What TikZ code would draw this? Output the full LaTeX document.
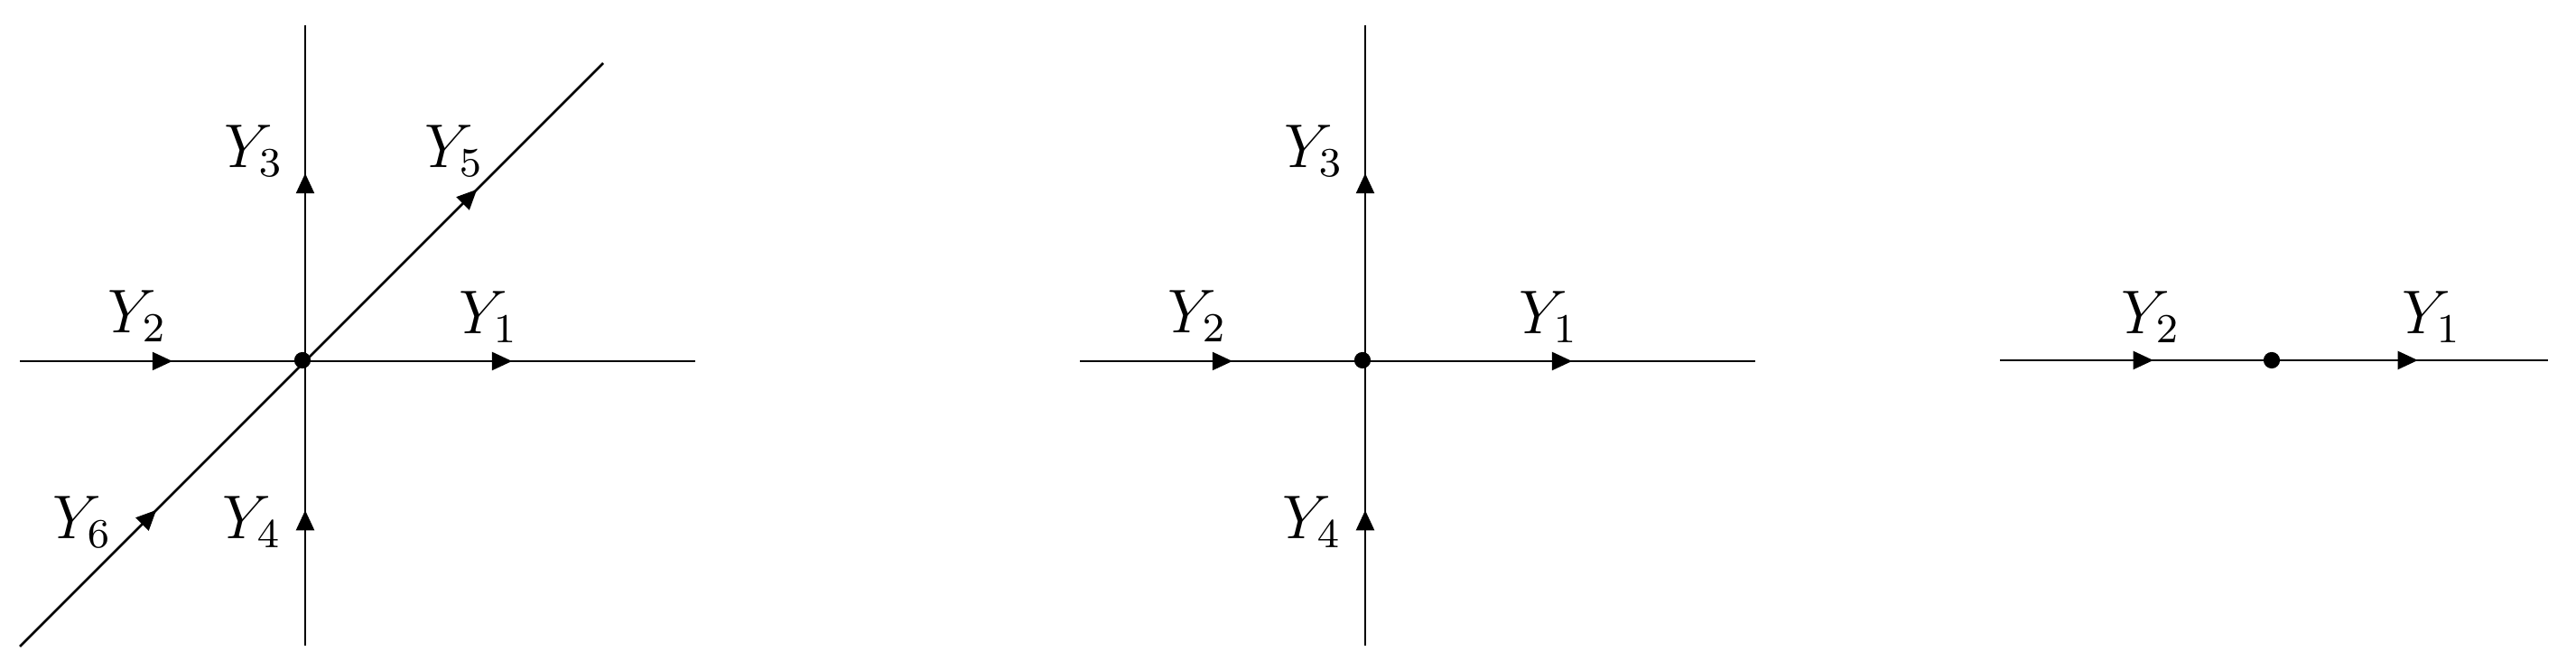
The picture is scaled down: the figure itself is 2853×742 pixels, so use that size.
\documentclass[tikz,border=0pt]{standalone}
\usetikzlibrary{arrows.meta,decorations.markings}
\tikzset{
  edge/.style={line width=0.45pt},
  tipat/.style={postaction={decorate},decoration={markings,
      mark=at position #1 with {\arrow{Triangle[length=3.9pt,width=3.5pt]}}}},
  lbl/.style={inner sep=0pt,font=\large},
  junction/.style={circle,fill=black,inner sep=0pt,minimum size=3.2pt}
}
\begin{document}
\begin{tikzpicture}[x={(0.17544pt,0)},y={(0,-0.17544pt)}]
\useasboundingbox (0,0) rectangle (2853,742);
% ---------- panel 1 ----------
\coordinate (c1) at (338,400);
\coordinate (l1) at (22,400);
\coordinate (r1) at (770,400);
\coordinate (t1) at (338,28);
\coordinate (b1) at (338,715);
\coordinate (sw1) at (22,716);
\coordinate (ne1) at (668,70);
\draw[edge,tipat=29.65pt] (l1) -- (c1);
\draw[edge,tipat=40.2pt] (c1) -- (r1);
\draw[edge,tipat=36.5pt] (c1) -- (t1);
\draw[edge,tipat=26.3pt] (b1) -- (c1);
\draw[edge,tipat=47.2pt] (c1) -- (ne1);
\draw[edge,tipat=37.5pt] (sw1) -- (c1);
\node[junction] (d1) at (335,399) {};
\node[lbl] (y2a) at (152,350) {$Y_2$};
\node[lbl] (y1a) at (541,351) {$Y_1$};
\node[lbl] (y3a) at (281,167) {$Y_3$};
\node[lbl] (y5a) at (503,167) {$Y_5$};
\node[lbl] (y6a) at (91,578) {$Y_6$};
\node[lbl] (y4a) at (279,578) {$Y_4$};
% ---------- panel 2 ----------
\coordinate (c2) at (1512,400);
\coordinate (l2) at (1196,400);
\coordinate (r2) at (1944,400);
\coordinate (t2) at (1512,28);
\coordinate (b2) at (1512,715);
\draw[edge,tipat=29.65pt] (l2) -- (c2);
\draw[edge,tipat=40.2pt] (c2) -- (r2);
\draw[edge,tipat=36.5pt] (c2) -- (t2);
\draw[edge,tipat=26.3pt] (b2) -- (c2);
\node[junction] (d2) at (1509,399) {};
\node[lbl] (y2b) at (1326,350) {$Y_2$};
\node[lbl] (y1b) at (1715,351) {$Y_1$};
\node[lbl] (y3b) at (1455,167) {$Y_3$};
\node[lbl] (y4b) at (1453,578) {$Y_4$};
% ---------- panel 3 ----------
\coordinate (c3) at (2516,399);
\coordinate (l3) at (2215,399);
\coordinate (r3) at (2822,399);
\draw[edge,tipat=29.8pt] (l3) -- (c3);
\draw[edge,tipat=28.4pt] (c3) -- (r3);
\node[junction] (d3) at (c3) {};
\node[lbl] (y2c) at (2382,351) {$Y_2$};
\node[lbl] (y1c) at (2693,351) {$Y_1$};
\end{tikzpicture}
\end{document}
